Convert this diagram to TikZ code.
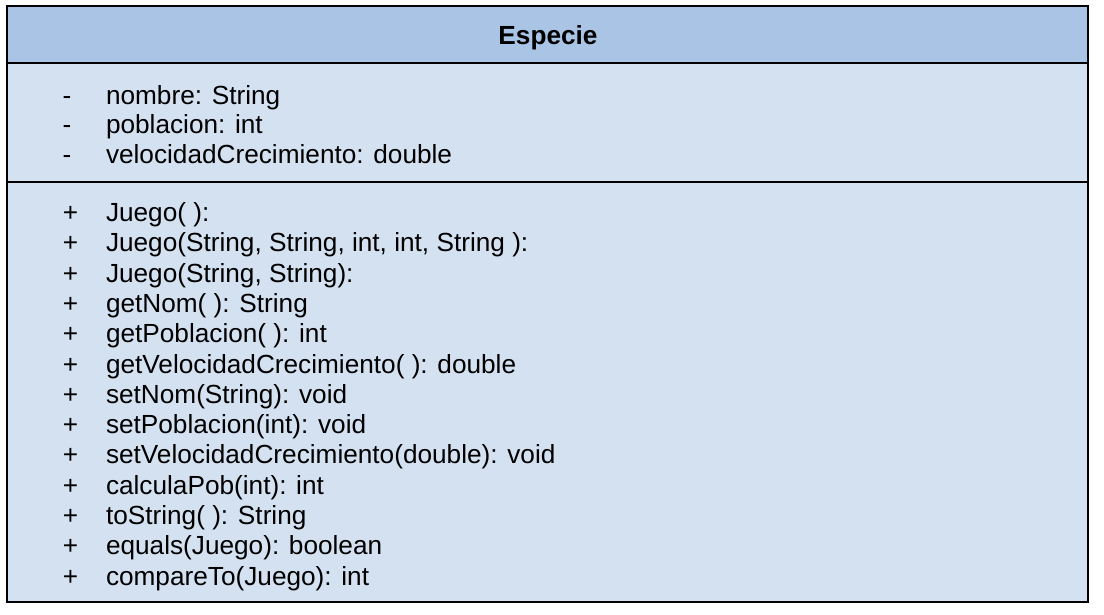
\documentclass[tikz,border=0pt]{standalone}
\usepackage{fontspec}
\setmainfont{Liberation Sans}
\definecolor{hdr}{HTML}{A9C4E5}
\definecolor{bdy}{HTML}{D4E1F1}
\tikzset{
  comp/.style={draw=black, line width=2pt, inner sep=0pt, outer sep=0pt, minimum width=1081pt},
  txt/.style={inner sep=0pt, outer sep=0pt, anchor=base west, font=\fontsize{26.2}{30}\selectfont},
  sym/.style={inner sep=0pt, outer sep=0pt, anchor=base, font=\fontsize{26.2}{30}\selectfont},
  title/.style={inner sep=0pt, anchor=base, font=\fontsize{26.2}{30}\selectfont\bfseries},
}
\begin{document}
\begin{tikzpicture}[x=1pt,y=-1pt]
\useasboundingbox (0,0) rectangle (1104,614);
\node[comp, fill=bdy, minimum height=420pt, anchor=north west] (ops) at (7,182) {};
\node[comp, fill=bdy, minimum height=119pt, anchor=north west] (attrs) at (7,63) {};
\node[comp, fill=hdr, minimum height=57pt, anchor=north west] (head) at (7,6) {};
\node[title] (name) at (548,44.5) {Especie};
\foreach \t [count=\i] in {nombre: String, poblacion: int, velocidadCrecimiento: double}{
  \node[sym] (as\i) at (67,{104+29.5*(\i-1)}) {-};
  \node[txt] (a\i) at (106,{104+29.5*(\i-1)}) {\t};
}
\foreach \t [count=\i] in {Juego( ):, {Juego(String, String, int, int, String ):}, {Juego(String, String):}, getNom( ): String, getPoblacion( ): int, getVelocidadCrecimiento( ): double, setNom(String): void, setPoblacion(int): void, setVelocidadCrecimiento(double): void, calculaPob(int): int, toString( ): String, equals(Juego): boolean, compareTo(Juego): int}{
  \node[sym] (ms\i) at (70.5,{221.5+30.3*(\i-1)}) {+};
  \node[txt] (m\i) at (106,{221.5+30.3*(\i-1)}) {\t};
}
\end{tikzpicture}
\end{document}
